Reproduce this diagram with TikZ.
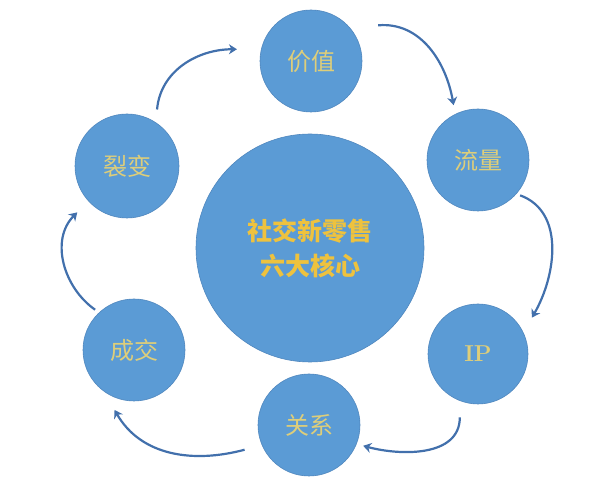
\documentclass[tikz,border=0pt]{standalone}
\usepackage{fontspec}
\newfontfamily\cjk{Noto Sans CJK SC}
\usepackage{tikz}
\usetikzlibrary{positioning, arrows.meta, calc}
\usetikzlibrary{shapes,shapes.geometric}
\definecolor{ballblue}{RGB}{91,155,213}
\definecolor{rimblue}{RGB}{80,135,190}
\definecolor{labelgold}{RGB}{222,206,122}
\definecolor{coregold}{RGB}{238,194,62}
\definecolor{arrowblue}{RGB}{66,112,172}

\begin{document}
\begin{tikzpicture}[x=1pt, y=1pt,
		ball/.style={circle, fill=ballblue, draw=rimblue, line width=0.6pt, text=labelgold, font=\cjk\fontsize{24}{28}\selectfont},
		cyc/.style={draw=arrowblue, line width=2.2pt, -{Stealth[length=8pt, width=10pt]}}]
		\useasboundingbox (0,0) rectangle (591,500);
		\node[ball, minimum size=228, text=coregold, align=center, font=\cjk\bfseries\fontsize{25}{35}\selectfont] (c0) at (310,252) {社交新零售\\六大核心};
		\node[ball, minimum size=102] (c1) at (311,439) {价值};
		\node[ball, minimum size=102] (c2) at (478,340) {流量};
		\node[ball, minimum size=100, font=\rmfamily\bfseries\fontsize{23}{26}\selectfont] (c3) at (478,146) {IP};
		\node[ball, minimum size=102] (c4) at (309,75) {关系};
		\node[ball, minimum size=102] (c5) at (134,150) {成交};
		\node[ball, minimum size=104] (c6) at (127,334) {裂变};
		
		
		\draw ($(c6)+(62:64)$) edge[cyc, out=85, in=180] ($(c1)+(171:75)$) ;
		\draw ($(c1)+(28:76)$) edge[cyc, out=5, in=100] ($(c2)+(114:60)$) ;
		\draw ($(c2)+(-40:55)$) edge[cyc, out=-20, in=60] ($(c3)+(34:65)$) ;
		\draw ($(c3)+(254:66)$) edge[cyc, out=-90, in=-15] ($(c4)+(-21:58)$) ;
		\draw ($(c4)+(201:69)$) edge[cyc, out=195, in=-60] ($(c5)+(252:63)$) ;
		\draw ($(c5)+(134:56)$) edge[cyc, out=145, in=225] ($(c6)+(223:68)$) ;
	\end{tikzpicture}
\end{document}
